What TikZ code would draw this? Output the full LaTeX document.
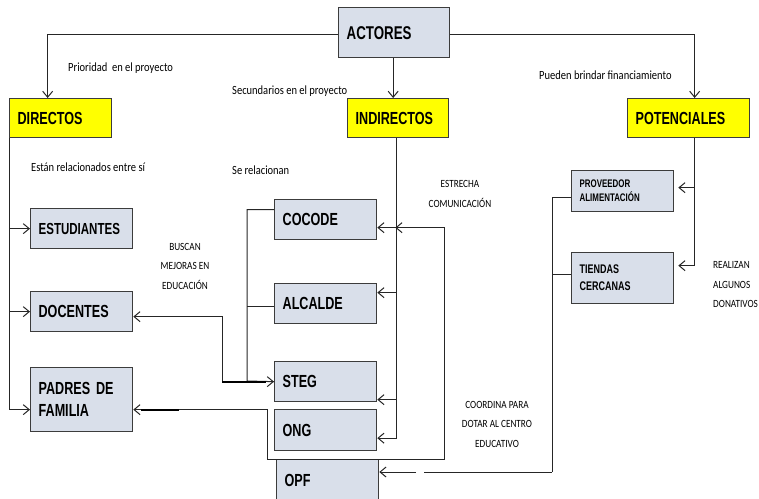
\documentclass[tikz,border=0pt]{standalone}
\usepackage{fontspec}
\setmainfont{Carlito}
\newfontfamily\boxfont[FakeStretch=0.72]{Liberation Sans}
\newfontfamily\notefont[FakeStretch=0.84]{Carlito}
\usetikzlibrary{%
    arrows.meta,
    calc,
    positioning
}
\definecolor{boxgray}{RGB}{217,223,234}
\definecolor{boxyellow}{RGB}{255,255,0}
\definecolor{edgegray}{RGB}{60,60,60}
\tikzset{headarrow/.style = {-{Straight Barb[length=6pt,width=10pt]}}}
\tikzset{bothway/.style = {{Straight Barb[length=6pt,width=10pt]}-{Straight Barb[length=6pt,width=10pt]}}}
\tikzset{wire/.style = {draw=black!85, line width=1pt}}
\tikzset{actor/.style = {draw=edgegray, line width=1.3pt, anchor=north west,
    inner xsep=8pt, inner ysep=0pt, align=left,
    font=\boxfont\bfseries\fontsize{17.5}{22}\selectfont}}
\tikzset{grouphead/.style = {actor, fill=boxyellow, minimum height=39pt}}
\tikzset{member/.style = {actor, fill=boxgray, minimum height=40pt, text width=86pt}}
\tikzset{note/.style = {inner sep=0pt, font=\notefont\fontsize{12.5}{19}\selectfont}}
\tikzset{capsnote/.style = {note, align=center, font=\notefont\fontsize{11}{19.5}\selectfont}}

\begin{document}
\begin{tikzpicture}[x=1pt, y=-1pt]
    \useasboundingbox (0,0) rectangle (759,498);

    \node[actor, fill=boxgray, minimum height=50pt, text width=95pt,
          font=\boxfont\bfseries\fontsize{18.5}{22}\selectfont]
                (actores) at (338,7) {ACTORES};
    \node[grouphead, text width=86pt]  (directos)    at (9,98)    {DIRECTOS};
    \node[grouphead, text width=85pt]  (indirectos)  at (347,98)  {INDIRECTOS};
    \node[grouphead, text width=106pt] (potenciales) at (627,98)  {POTENCIALES};

    \node[member, font=\boxfont\bfseries\fontsize{16}{22}\selectfont]
                  (estudiantes) at (30,208)  {ESTUDIANTES};
    \node[member] (docentes)    at (30,291)  {DOCENTES};
    \node[member, minimum height=64pt] (padres) at (30,367) {PADRES DE\\FAMILIA};

    \node[member] (cocode)  at (274,199) {COCODE};
    \node[member] (alcalde) at (274,283) {ALCALDE};
    \node[member] (steg)    at (274,361) {STEG};
    \node[member, minimum height=41pt] (ong) at (274,409) {ONG};
    \node[member, minimum height=42pt] (opf) at (276,459) {OPF};

    \node[member, minimum height=41pt,
          font=\boxfont\bfseries\fontsize{11}{14}\selectfont]
                (proveedor) at (571,170) {PROVEEDOR\\ALIMENTACIÓN};
    \node[member, minimum height=51pt,
          font=\boxfont\bfseries\fontsize{12.5}{17}\selectfont]
                (tiendas)   at (571,252) {TIENDAS\\CERCANAS};

    \node[note, anchor=west] (prioridad)      at (68,68)   {Prioridad\ \ en el proyecto};
    \node[note, anchor=west] (secundarios)    at (232,91)  {Secundarios en el proyecto};
    \node[note, anchor=west] (financiamiento) at (539,75)  {Pueden brindar financiamiento};
    \node[note, anchor=west] (relacionados)   at (31,167)  {Están relacionados entre sí};
    \node[note, anchor=west] (serelacionan)   at (232,170) {Se relacionan};
    \node[capsnote] (buscan)   at (185,266) {BUSCAN\\MEJORAS EN\\EDUCACIÓN};
    \node[capsnote] (estrecha) at (460,194) {ESTRECHA\\COMUNICACIÓN};
    \node[capsnote] (coordina) at (497,424) {COORDINA PARA\\DOTAR AL CENTRO\\EDUCATIVO};
    \node[capsnote, align=left, anchor=west] (donativos) at (713,285) {REALIZAN\\ALGUNOS\\DONATIVOS};

    % from the top box to the three groups
    \draw[wire, headarrow] ([yshift=-2pt]actores.west) -| ([xshift=-13pt]directos.north);
    \draw[wire, headarrow] ([xshift=-1pt]actores.south) -- ([xshift=-1pt]actores.south |- indirectos.north);
    \draw[wire, headarrow] ([yshift=-2pt]actores.east) -| ([xshift=6pt]potenciales.north);

    \foreach \Member in {estudiantes, docentes}
        \draw[wire, headarrow] (directos.south west) |- (\Member);
    \draw[wire, headarrow] (directos.south west) |- ([yshift=-10pt]padres.west);

    \foreach \Member/\Shift in {cocode/-8pt, alcalde/11pt, steg/-18pt, ong/-8pt}
        \draw[wire, headarrow] ([xshift=-2pt]indirectos.south) |- ([yshift=\Shift]\Member.east);

    \foreach \Member/\Shift in {proveedor/3.5pt, tiendas/12.5pt}
        \draw[wire, headarrow, shorten >=4pt] ([xshift=6pt]potenciales.south) |- ([yshift=\Shift]\Member.east);

    % se relacionan
    \coordinate (relspine) at (247,381);
    \draw[wire] ([yshift=10pt]cocode.west) -| (relspine) -- (steg.west);
    \draw[wire] ([yshift=-3pt]alcalde.west) -- ++(-27,0);

    % buscan mejoras
    \draw[wire, bothway] ([yshift=-5pt]docentes.east) -| ([xshift=-52pt]steg.west) -- (steg.west);
    \draw[line width=2.2pt] ([xshift=-52pt]steg.west) -- ([xshift=-8pt]steg.west);

    % estrecha comunicacion
    \draw[wire, bothway] ([yshift=-10pt]padres.east) -| ([xshift=-9pt]opf.north west)
        -- ([xshift=65pt]opf.north east) |- ([xshift=18pt,yshift=-8pt]cocode.east);
    \draw[line width=2.2pt] ([xshift=8pt,yshift=-10pt]padres.east) -- ++(38,0);

    % coordina
    \coordinate (coordspine) at (552,472);
    \draw[wire] ([yshift=-6pt]proveedor.west) -| (coordspine);
    \draw[wire, headarrow, dash pattern=on 128pt off 8pt on 60pt] (coordspine) -- (coordspine -| opf.east);
    \draw[wire] ([yshift=3.5pt]tiendas.west) -- ++(-19,0);
\end{tikzpicture}
\end{document}
